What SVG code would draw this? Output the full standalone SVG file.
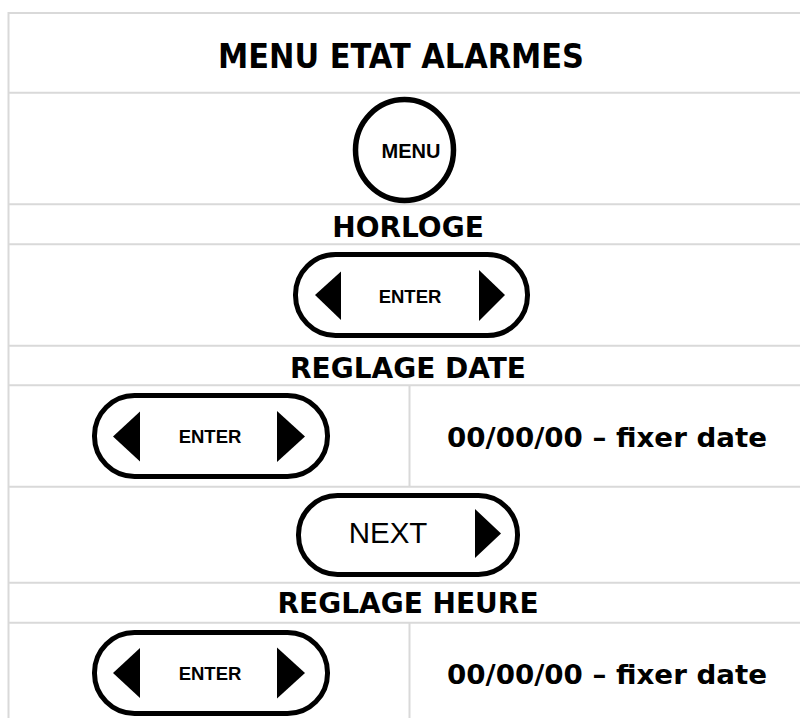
<svg xmlns="http://www.w3.org/2000/svg" width="800" height="718" viewBox="0 0 800 718">
<style>
.grid{stroke:#d9d9d9;stroke-width:2;fill:none}
.hdr{font-family:"DejaVu Sans",Verdana,sans-serif;font-weight:bold;font-size:28px;fill:#000;text-anchor:middle}
.info{font-family:"DejaVu Sans",Verdana,sans-serif;font-weight:bold;font-size:26px;fill:#000}
.btn{fill:#fff;stroke:#000;stroke-width:5}
.tri{fill:#000}
.btxt{font-family:"Liberation Sans",Arial,sans-serif;font-weight:bold;font-size:18.5px;fill:#000;text-anchor:middle}
.ntxt{font-family:"Liberation Sans",Arial,sans-serif;font-size:29.5px;fill:#000;text-anchor:middle}
</style>
<rect width="800" height="718" fill="#fff"/>
<g id="connectors">
<g id="table-grid" class="grid">
<line x1="8.5" y1="13" x2="800" y2="13"/>
<line x1="8.5" y1="92.7" x2="800" y2="92.7"/>
<line x1="8.5" y1="204.3" x2="800" y2="204.3"/>
<line x1="8.5" y1="244.3" x2="800" y2="244.3"/>
<line x1="8.5" y1="345.7" x2="800" y2="345.7"/>
<line x1="8.5" y1="385.3" x2="800" y2="385.3"/>
<line x1="8.5" y1="486.7" x2="800" y2="486.7"/>
<line x1="8.5" y1="582.7" x2="800" y2="582.7"/>
<line x1="8.5" y1="622.7" x2="800" y2="622.7"/>
<line x1="8.5" y1="12" x2="8.5" y2="718"/>
<line x1="409.5" y1="385.3" x2="409.5" y2="486.7"/>
<line x1="409.5" y1="622.7" x2="409.5" y2="718"/>
</g>
</g>
<g id="title">
<text class="hdr" x="401" y="68" style="font-size:33px" textLength="366" lengthAdjust="spacingAndGlyphs">MENU ETAT ALARMES</text>
</g>
<g id="menu-button">
<ellipse class="btn" cx="404.5" cy="150" rx="49" ry="50.5" style="stroke-width:5.5"/>
<text class="btxt" x="411" y="158" style="font-size:20px">MENU</text>
</g>
<g id="horloge">
<text class="hdr" x="408" y="237">HORLOGE</text>
</g>
<g id="enter-button-1">
<rect class="btn" x="295.5" y="254.5" width="232" height="81" rx="40" ry="40"/>
<polygon class="tri" points="315,295 341,271.5 341,320"/>
<polygon class="tri" points="479,270 505,295 479,321"/>
<text class="btxt" x="410" y="303">ENTER</text>
</g>
<g id="reglage-date">
<text class="hdr" x="408" y="378">REGLAGE DATE</text>
</g>
<g id="enter-button-2">
<rect class="btn" x="94.5" y="395.5" width="233" height="81" rx="40" ry="40"/>
<polygon class="tri" points="113,436.5 140,411.5 140,461.5"/>
<polygon class="tri" points="277,411 305,436.5 277,462"/>
<text class="btxt" x="210" y="443">ENTER</text>
</g>
<g id="date-info">
<text class="info" x="447" y="447" textLength="320" lengthAdjust="spacingAndGlyphs">00/00/00 – fixer date</text>
</g>
<g id="next-button">
<rect class="btn" x="298.5" y="495.5" width="219" height="79" rx="39" ry="39"/>
<polygon class="tri" points="475,509 501,533.5 475,558"/>
<text class="ntxt" x="388" y="543">NEXT</text>
</g>
<g id="reglage-heure">
<text class="hdr" x="408" y="613">REGLAGE HEURE</text>
</g>
<g id="enter-button-3">
<rect class="btn" x="94.5" y="632.5" width="233" height="81" rx="40" ry="40"/>
<polygon class="tri" points="113,673 140,648 140,698"/>
<polygon class="tri" points="277,647.5 305,673 277,698.5"/>
<text class="btxt" x="210" y="680">ENTER</text>
</g>
<g id="time-info">
<text class="info" x="447" y="684" textLength="320" lengthAdjust="spacingAndGlyphs">00/00/00 – fixer date</text>
</g>
</svg>
